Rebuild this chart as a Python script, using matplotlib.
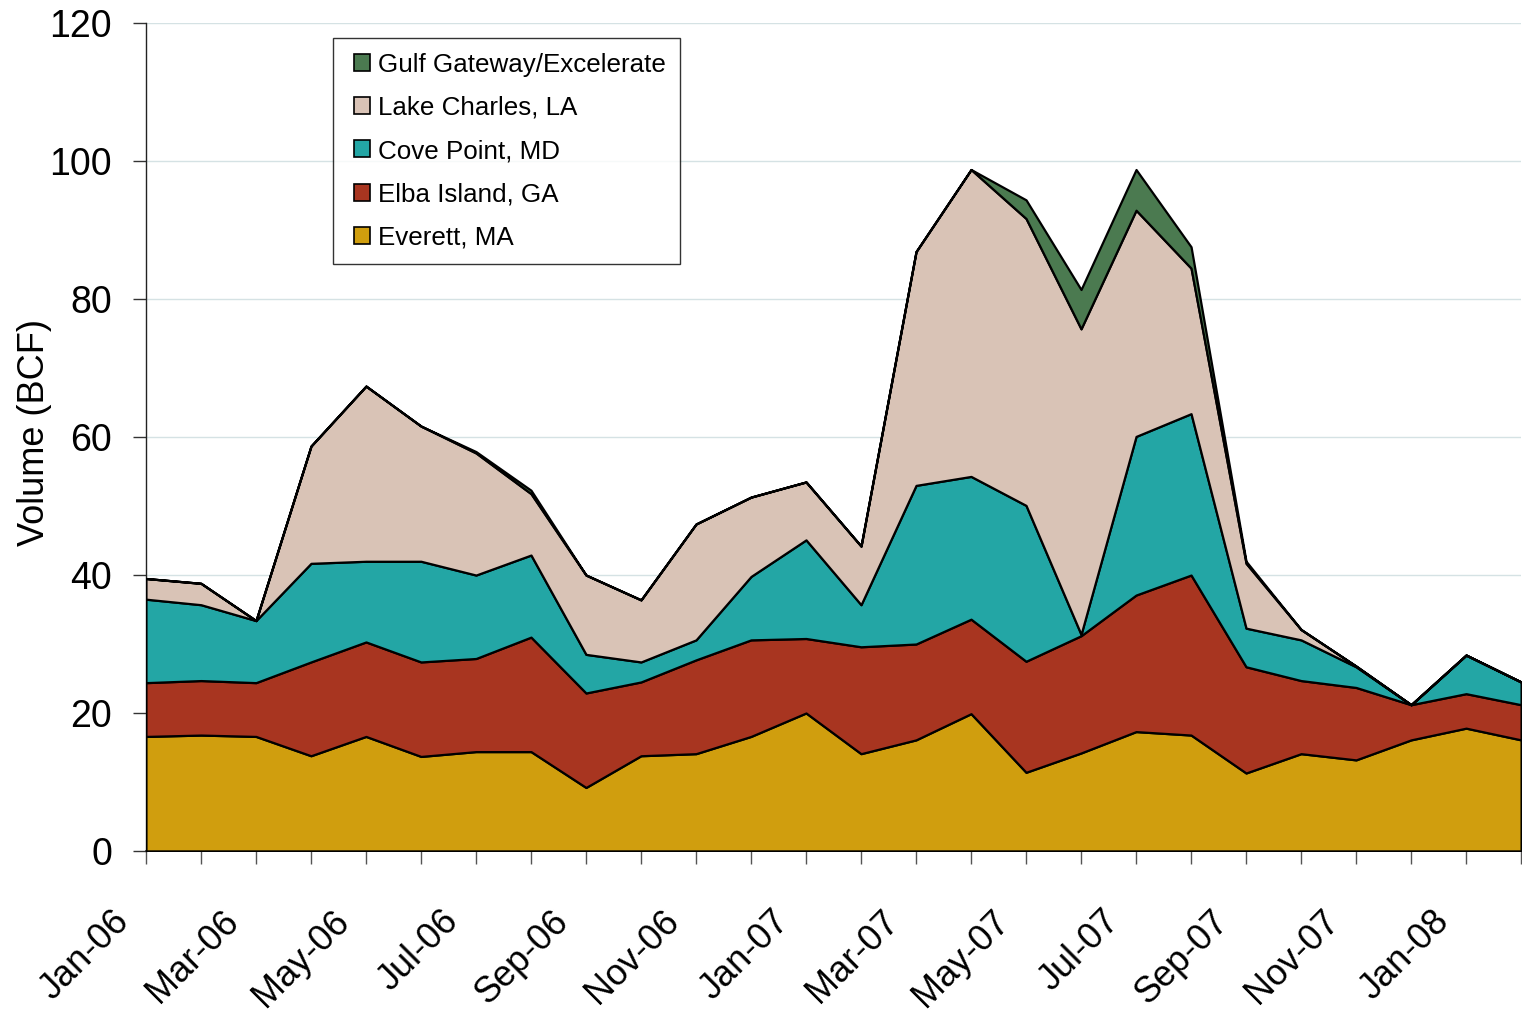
import matplotlib
matplotlib.use("Agg")
import matplotlib.pyplot as plt
import matplotlib.transforms as mtransforms
from matplotlib.patches import Patch
from matplotlib.legend_handler import HandlerPatch
import numpy as np

plt.rcParams['font.family'] = ['Liberation Sans', 'DejaVu Sans']

months = ["Jan-06", "Feb-06", "Mar-06", "Apr-06", "May-06", "Jun-06", "Jul-06", "Aug-06",
          "Sep-06", "Oct-06", "Nov-06", "Dec-06", "Jan-07", "Feb-07", "Mar-07", "Apr-07",
          "May-07", "Jun-07", "Jul-07", "Aug-07", "Sep-07", "Oct-07", "Nov-07", "Dec-07",
          "Jan-08", "Feb-08"]

everett = [16.6, 16.8, 16.6, 13.8, 16.6, 13.7, 14.4, 14.4, 9.2, 13.8, 14.1, 16.6, 20.0,
           14.1, 16.1, 19.9, 11.4, 14.2, 17.3, 16.8, 11.3, 14.1, 13.2, 16.1, 17.8, 16.1]
elba = [7.8, 7.9, 7.8, 13.6, 13.7, 13.7, 13.5, 16.6, 13.7, 10.7, 13.6, 14.0, 10.8,
        15.5, 13.9, 13.7, 16.1, 17.0, 19.8, 23.2, 15.4, 10.6, 10.5, 5.1, 5.0, 5.1]
cove = [12.1, 11.0, 9.0, 14.3, 11.7, 14.6, 12.1, 11.9, 5.6, 2.9, 2.9, 9.2, 14.3,
        6.1, 23.0, 20.7, 22.6, 0.2, 23.0, 23.4, 5.6, 5.9, 3.0, 0.0, 5.6, 3.3]
lake = [3.0, 3.1, 0.0, 17.0, 25.4, 19.6, 17.7, 8.9, 11.5, 9.0, 16.8, 11.5, 8.4,
        8.5, 33.9, 44.5, 41.6, 44.3, 32.8, 21.1, 9.4, 1.5, 0.1, 0.0, 0.0, 0.0]
gulf = [0.0, 0.0, 0.0, 0.0, 0.0, 0.0, 0.2, 0.5, 0.0, 0.0, 0.0, 0.0, 0.0,
        0.0, 0.0, 0.0, 2.7, 5.7, 5.9, 3.1, 0.3, 0.0, 0.0, 0.0, 0.0, 0.0]

series_names = ["Everett, MA", "Elba Island, GA", "Cove Point, MD", "Lake Charles, LA",
                "Gulf Gateway/Excelerate"]
colors = ["#D09E0E", "#A83520", "#23A6A5", "#D9C3B6", "#4B7A50"]

yticks = [0, 20, 40, 60, 80, 100, 120]

fig = plt.figure(figsize=(15.22, 10.13), dpi=100)
ax = fig.add_axes([0.0959, 0.16, 0.9035, 0.817])

x = np.arange(len(months))
ax.stackplot(x, everett, elba, cove, lake, gulf, colors=colors,
             edgecolor="black", linewidth=1.6, zorder=3)

ax.set_xlim(0, len(months) - 1)
ax.set_ylim(0, 120)
ax.set_yticks(yticks)
ax.set_yticklabels([str(v) for v in yticks], fontsize=27)
ax.yaxis.grid(True, color="#D5E2E4", linewidth=1.0, zorder=0)
ax.set_axisbelow(True)

ax.set_xticks(x)
ax.set_xticklabels([m if i % 2 == 0 else "" for i, m in enumerate(months)],
                   rotation=45, ha="right", va="top", rotation_mode="anchor", fontsize=26)
ax.tick_params(axis="x", direction="out", length=9, width=1, color="#555555", pad=29)
ax.tick_params(axis="y", direction="out", length=9.5, width=1, color="#333333", pad=15)

offset = mtransforms.ScaledTranslation(-25 / 72, 0, fig.dpi_scale_trans)
for lab in ax.get_xticklabels():
    lab.set_transform(lab.get_transform() + offset)

for s in ["top", "right"]:
    ax.spines[s].set_visible(False)
ax.spines["left"].set_color("#222222")
ax.spines["bottom"].set_color("#222222")
ax.spines["left"].set_linewidth(1.0)
ax.spines["bottom"].set_linewidth(1.2)

ax.set_ylabel("Volume (BCF)", fontsize=26)
ax.yaxis.set_label_coords(-0.0685, 0.505)

handles = [Patch(facecolor=c, edgecolor="black", linewidth=1.2) for c in colors[::-1]]
leg = ax.legend(handles, series_names[::-1], loc="upper left",
                bbox_to_anchor=(0.136, 0.982), borderaxespad=0, fontsize=18.75,
                frameon=True, fancybox=False, edgecolor="black", handlelength=0.89,
                handleheight=0.62, handletextpad=0.28, labelspacing=0.74, borderpad=0.55,
                handler_map={Patch: HandlerPatch(xpad=0.27)})
leg.get_frame().set_linewidth(1.0)
leg.set_zorder(5)

fig.savefig("out.png", dpi=100)
